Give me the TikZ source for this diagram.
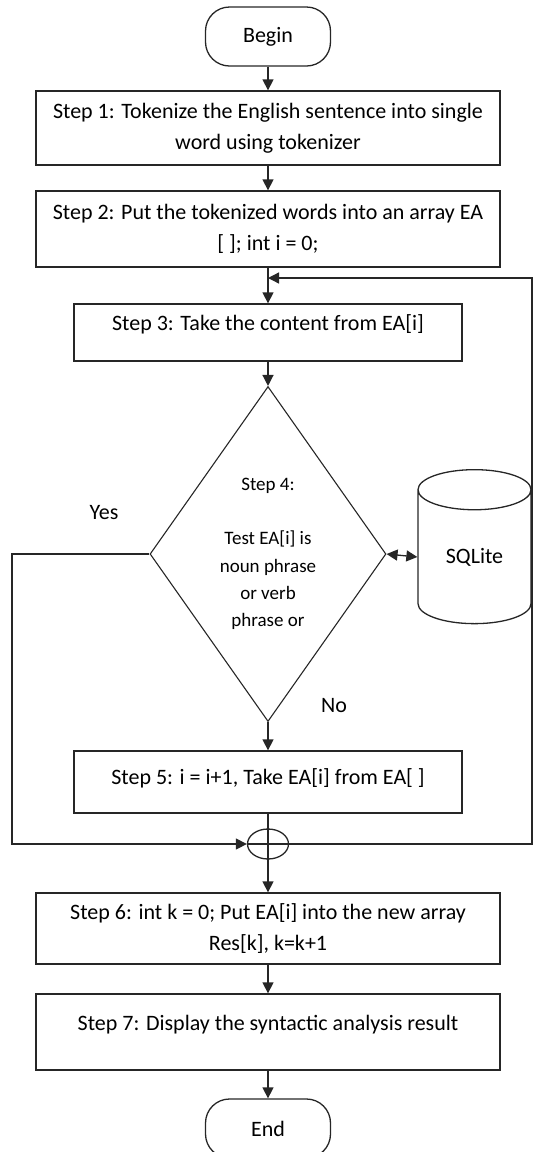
\documentclass[tikz,border=0pt]{standalone}
\usepackage{fontspec}
\setmainfont{Carlito}
\usetikzlibrary{shapes.geometric, arrows.meta}

\begin{document}
\begin{tikzpicture}[x=1pt, y=1pt]
        \tikzset{stepbox/.style={draw=black!85, line width=1.3pt, minimum width=464, align=center, inner sep=0pt, font=\fontsize{22}{31}\selectfont}}
        \tikzset{topbox/.style={stepbox, minimum width=388, text height=16pt, text depth=20pt}}
        \tikzset{terminal/.style={draw=black!85, line width=1.3pt, rounded corners=24pt, minimum width=125, minimum height=59, font=\fontsize{22}{31}\selectfont}}
        \tikzset{link/.style={draw=black!85, line width=1.3pt}}
        \tikzset{flow/.style={link, -{Triangle[length=11pt, width=11pt]}}}
        \tikzset{tag/.style={font=\fontsize{22}{31}\selectfont}}

        \useasboundingbox (0,0) rectangle (534,-1152);

        \node[terminal] (begin) at (268,-36.5) {Begin};
        \node[stepbox, minimum height=74] (s1) at (268,-128) {Step 1: Tokenize the English sentence into single\\word using tokenizer};
        \node[stepbox, minimum height=76] (s2) at (268,-229) {Step 2: Put the tokenized words into an array EA\\{}[ ]; int i = 0;};
        \node[topbox, minimum height=57] (s3) at (268,-332.5) {Step 3: Take the content from EA[i]};
        \node[draw=black!85, line width=1.1pt, diamond, minimum width=236, minimum height=335, inner sep=0pt] (s4) at (268,-554) {};
        \node[align=center, font=\fontsize{19}{27.3}\selectfont] (s4text) at (s4) {Step 4:\\[27.3pt]Test EA[i] is\\noun phrase\\or verb\\phrase or};
        \node[draw=black!85, line width=1.3pt, cylinder, shape border rotate=90, aspect=0.7, minimum width=113, minimum height=154, inner sep=0pt, tag] (db) at (474.5,-557) {SQLite};
        \node[topbox, minimum height=62, text depth=12pt] (s5) at (268,-782) {Step 5: i = i+1, Take EA[i] from EA[ ]};
        \node[draw=black!85, line width=1.3pt, ellipse, minimum width=41, minimum height=30, inner sep=0pt] (jn) at (268,-844) {};
        \node[stepbox, minimum height=71] (s6) at (268,-928.5) {Step 6: int k = 0; Put EA[i] into the new array\\Res[k], k=k+1};
        \node[topbox, minimum width=464, minimum height=76] (s7) at (268,-1032) {Step 7: Display the syntactic analysis result};
        \node[terminal] (finish) at (268,-1128.5) {End};

        \node[tag] (yes) at (104,-513) {Yes};
        \node[tag] (no) at (334,-706) {No};

        \coordinate (yesc) at (12,-844);
        \coordinate (loopb) at (532,-844);
        \coordinate (loopt) at (532,-278);
        \coordinate (loopin) at (268,-278);

        \draw[flow] (begin) -- (s1);
        \draw[flow] (s1) -- (s2);
        \draw[flow] (s2) -- (s3);
        \draw[flow] (s3) -- (s4);
        \draw[flow] (s4) -- (s5);
        \draw[link] (s5) -- (jn.center);
        \draw[flow] (jn.center) -- (s6);
        \draw[flow] (s6) -- (s7);
        \draw[flow] (s7) -- (finish);

        \draw[flow] (s4.west) -| (yesc) -- (jn.west);
        \draw[flow] (jn.west) -- (loopb) -- (loopt) -- (loopin);
        \draw[link, {Triangle[length=11pt, width=11pt]}-{Triangle[length=11pt, width=11pt]}] (s4.east) -- (db.west);
\end{tikzpicture}
\end{document}
